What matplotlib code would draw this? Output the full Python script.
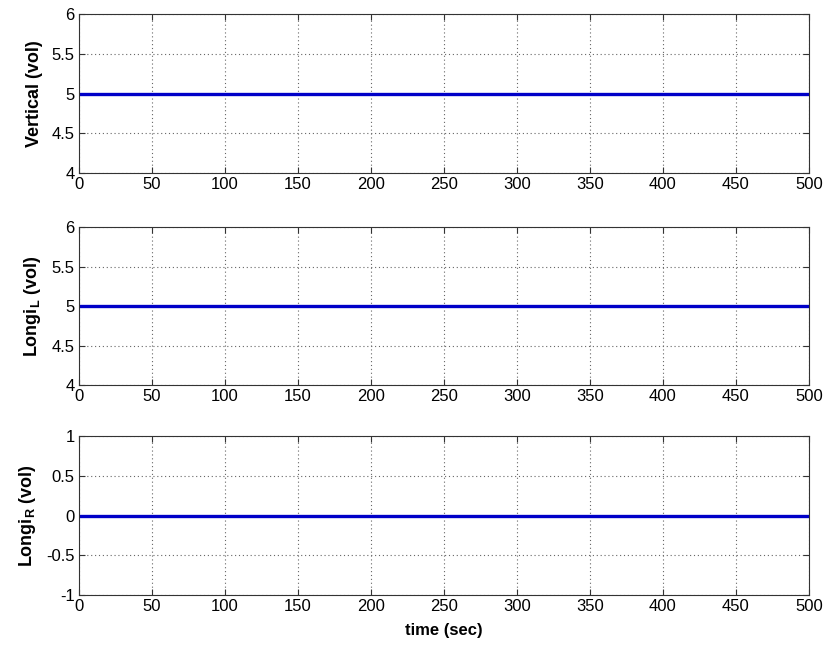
import matplotlib
matplotlib.use('Agg')
import matplotlib.pyplot as plt

# data (flat signals over the run)
time_sec = [0, 250, 500]
vertical = [5, 5, 5]
longi_l = [5, 5, 5]
longi_r = [0, 0, 0]

x_ticks = list(range(0, 501, 50))
y_ticks_top = [4, 4.5, 5, 5.5, 6]
y_ticks_bot = [-1, -0.5, 0, 0.5, 1]

plt.rcParams['font.family'] = ['Liberation Sans', 'DejaVu Sans']
plt.rcParams['mathtext.fontset'] = 'custom'
plt.rcParams['mathtext.rm'] = 'Liberation Sans'
plt.rcParams['mathtext.bf'] = 'Liberation Sans:bold'

fig = plt.figure(figsize=(8.28, 6.46), dpi=100)

# axes boxes in pixels: (top, bottom)
boxes = [(14, 173), (227, 385), (436, 595)]
left, right = 79, 809
W, H = 828, 646

series = [
    (vertical, y_ticks_top, 'Vertical (vol)'),
    (longi_l, y_ticks_top, r'Longi$_{\mathbf{L}}$ (vol)'),
    (longi_r, y_ticks_bot, r'Longi$_{\mathbf{R}}$ (vol)'),
]

for (top, bot), (vals, yt, lab) in zip(boxes, series):
    ax = fig.add_axes([left / W, 1 - bot / H, (right - left) / W, (bot - top) / H])
    ax.plot(time_sec, vals, color='#0000c8', linewidth=2.4)
    ax.set_xlim(0, 500)
    ax.set_ylim(yt[0], yt[-1])
    ax.set_xticks(x_ticks)
    ax.set_yticks(yt)
    ax.set_yticklabels(['%g' % v for v in yt])
    ax.grid(True, linestyle=(0, (1, 2.5)), color='#666666', linewidth=0.8)
    ax.tick_params(direction='in', labelsize=12, length=4, width=0.8, color='#333333',
                   top=True, right=True)
    ax.tick_params(axis='x', pad=3)
    ax.tick_params(axis='y', pad=3)
    for s in ax.spines.values():
        s.set_color('#333333')
        s.set_linewidth(0.8)
    ax.set_ylabel(lab, fontsize=13, fontweight='bold', labelpad=6)

ax.set_xlabel('time (sec)', fontsize=12, fontweight='bold', labelpad=6)

fig.savefig('out.png', dpi=100)
